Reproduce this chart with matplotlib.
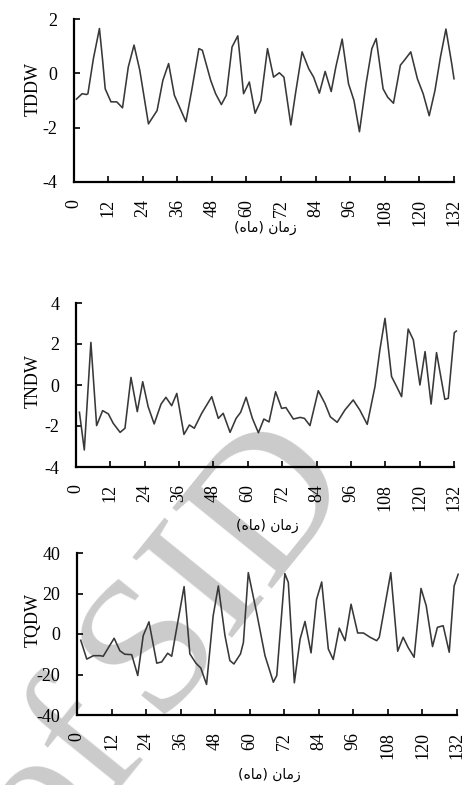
import matplotlib
matplotlib.use("Agg")
import matplotlib.pyplot as plt

plt.rcParams['axes.unicode_minus'] = False

# ---------------- data ----------------
tddw_month = [1, 3, 4.5, 5, 6.9, 9, 10.1, 11, 13, 15, 17, 19, 21, 23, 26, 29, 31, 33, 35,
              39, 41, 43.5, 44.7, 47.6, 49.3, 51.3, 53, 55, 57, 59, 61, 63, 65, 67.3,
              69.4, 71.4, 73, 75.4, 77, 79.3, 81.6, 83.3, 85.3, 87.3, 89.4, 91, 93.2,
              95.4, 97.3, 99.2, 101.5, 103.5, 105, 107.4, 109, 111, 113.4, 115, 117,
              119.3, 121.3, 123.4, 125.4, 127.3, 129.2, 131.2, 132]
tddw_value = [-0.95, -0.75, -0.78, -0.75, 0.54, 1.65, 0.48, -0.57, -1.05, -1.05, -1.27,
              0.23, 1.04, 0.11, -1.86, -1.37, -0.26, 0.36, -0.81, -1.78, -0.63, 0.91,
              0.85, -0.26, -0.75, -1.15, -0.81, 0.97, 1.38, -0.75, -0.32, -1.47, -1.0,
              0.91, -0.14, 0.02, -0.14, -1.9, -0.75, 0.79, 0.17, -0.14, -0.73, 0.07,
              -0.67, 0.23, 1.26, -0.38, -1.0, -2.15, -0.38, 0.91, 1.28, -0.57, -0.88,
              -1.1, 0.3, 0.51, 0.79, -0.2, -0.75, -1.56, -0.63, 0.6, 1.63, 0.36, -0.2]

tndw_month = [1.2, 2.9, 5.2, 7.2, 9.3, 11.3, 13, 15.4, 17.1, 19.2, 21.4, 23.3, 25.2, 27.3,
              29.7, 31.4, 33.4, 35.2, 37.7, 39.6, 41.3, 43.9, 47.4, 49.7, 51.4, 53.8,
              55.9, 57.5, 59.4, 61.6, 63.7, 65.6, 67.4, 69.7, 71.8, 73.3, 75.9, 78.3,
              79.8, 81.7, 84.6, 86.9, 88.8, 91.2, 93.9, 96.8, 99.1, 101.7, 104.4, 106.1,
              107.9, 110.2, 111.7, 113.7, 116, 117.8, 120.1, 121.9, 124, 125.9, 128.8,
              130, 132.1, 132.8]
tndw_value = [-1.33, -3.17, 2.08, -1.98, -1.25, -1.41, -1.87, -2.31, -2.11, 0.37, -1.3,
              0.16, -1.06, -1.9, -0.93, -0.6, -1.01, -0.41, -2.41, -1.95, -2.11, -1.38,
              -0.57, -1.63, -1.38, -2.31, -1.63, -1.33, -0.6, -1.63, -2.33, -1.66, -1.8,
              -0.33, -1.14, -1.1, -1.66, -1.58, -1.63, -1.98, -0.28, -0.89, -1.55, -1.82,
              -1.22, -0.73, -1.22, -1.92, -0.08, 1.7, 3.25, 0.41, 0.0, -0.57, 2.73, 2.2,
              0.0, 1.63, -0.93, 1.58, -0.7, -0.65, 2.55, 2.63]

tqdw_month = [1.3, 3.4, 5.7, 8, 9.1, 12.9, 14.9, 16.6, 19, 21.1, 23, 25, 27.7, 29.4, 31.5,
              32.9, 35.2, 37.2, 38.1, 39.2, 41.3, 43, 45, 47.3, 49.1, 51.4, 53.1, 54.5,
              56.8, 57.8, 59.5, 62.4, 65.3, 68.2, 69.4, 72.2, 73.4, 75.5, 77.5, 79.2,
              81.3, 83.2, 85, 87.3, 89, 91.1, 93.1, 95.2, 97.5, 99.5, 101.8, 104.1, 105,
              109, 111.4, 113.3, 115, 117.1, 119.5, 121.3, 123.5, 125.2, 127.2, 129.3,
              131, 132.4]
tqdw_value = [-3.1, -12.4, -10.7, -10.7, -11, -2.1, -8.3, -10, -10.2, -20.5, -0.8, 6,
              -14.4, -13.8, -9.5, -11, 7.4, 23.4, 9, -9.8, -14.4, -16.8, -24.9, 9, 23.7,
              -0.8, -13.1, -14.8, -9.8, -4.2, 30.3, 10.5, -10.7, -23.8, -20.5, 29.8,
              25.5, -24.1, -2.5, 6.2, -9.3, 17, 25.7, -7.4, -12.6, 2.9, -3.3, 14.7, 0.5,
              0.5, -1.6, -3.3, -1.6, 30.3, -8.5, -1.6, -6.6, -11.5, 22.5, 14, -6.2, 3.3,
              4.1, -9, 23.7, 29.5]

x_ticks = list(range(0, 133, 12))
panels = [
    ("TDDW", tddw_month, tddw_value, [-4, -2, 0, 2]),
    ("TNDW", tndw_month, tndw_value, [-4, -2, 0, 2, 4]),
    ("TQDW", tqdw_month, tqdw_value, [-40, -20, 0, 20, 40]),
]
x_label = "(\uFEE9\uFE8E\uFEE3) \uFEE5\uFE8E\uFEE3\uFEAF"   # زمان (ماه) in visual order

# ---------------- layout ----------------
W, H = 467, 785
fig = plt.figure(figsize=(W / 100, H / 100), dpi=100)

# px boxes: left, right, top, bottom
boxes = [(73.5, 454, 19, 182), (76, 454, 303, 467), (77, 457, 553, 715)]
xlabel_y = [228, 526, 775]
ylabel_y = [89, 381, 620]

serif = ['Liberation Serif', 'DejaVu Serif']

# watermark
fig.text(218 / W, 1 - 566 / H, "SID", fontsize=140, family=serif, color='#cbcbcb',
         rotation=51, ha='center', va='center', rotation_mode='anchor', zorder=-5)
fig.text(60 / W, 1 - 780 / H, "of", fontsize=140, family=serif, color='#cbcbcb',
         rotation=51, ha='center', va='center', rotation_mode='anchor', zorder=-5)

for (name, xm, yv, yt), (l, r, t, b), xly, yly in zip(panels, boxes, xlabel_y, ylabel_y):
    ax = fig.add_axes([l / W, 1 - b / H, (r - l) / W, (b - t) / H])
    ax.patch.set_alpha(0)
    ax.plot(xm, yv, color='#383838', lw=1.15, clip_on=False, zorder=3,
            solid_joinstyle='round')
    ax.set_xlim(0, 132)
    ax.set_ylim(yt[0], yt[-1])
    ax.set_xticks(x_ticks)
    ax.set_xticklabels([str(v) for v in x_ticks], rotation=90, family=serif, fontsize=13)
    ax.set_yticks(yt)
    ax.set_yticklabels([str(v) for v in yt], family=serif, fontsize=13)
    for s in ('top', 'right'):
        ax.spines[s].set_visible(False)
    for s in ('left', 'bottom'):
        ax.spines[s].set_linewidth(1.6)
        ax.spines[s].set_color('black')
    ax.tick_params(axis='both', direction='in', length=4.5, width=1.2, color='black')
    ax.tick_params(axis='y', pad=12)
    ax.tick_params(axis='x', pad=12)
    fig.text(33 / W, 1 - yly / H, name, rotation=90, family=serif, fontsize=13,
             ha='center', va='center')
    fig.text(((l + r) / 2 + 2) / W, 1 - xly / H, x_label, family='DejaVu Sans',
             fontsize=10, ha='center', va='center')

fig.savefig("out.png", dpi=100)
